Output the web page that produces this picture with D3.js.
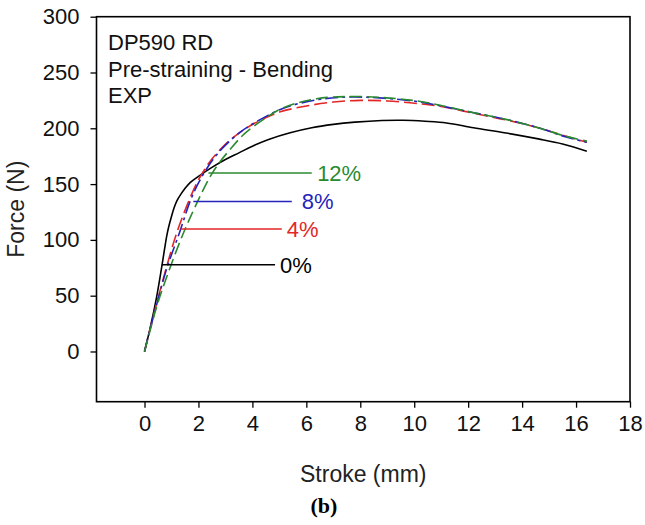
<!DOCTYPE html>
<meta charset="utf-8">
<script src="https://d3js.org/d3.v7.min.js"></script>
<style>
  body { margin: 0; background: #fff; }
  text { font-family: "Liberation Sans", Arial, sans-serif; }
</style>
<div id="graph"></div>
<script>
  // stroke (mm) / force (N)
  var x0 = [0, 0.2, 0.45, 0.64, 0.82, 0.9, 1.0, 1.1, 1.2, 1.35, 1.5, 1.7, 2.0, 2.5, 3.0, 3.5, 4.0, 4.6, 5.4, 6.2, 7.0, 7.8, 8.8, 9.6, 10.4, 11.2, 12.2, 13.4, 14.6, 15.5, 16.4];
  var f0 = [0, 20, 49, 76, 103, 112, 121, 129, 135, 141, 146, 151.5, 157, 165, 172, 178, 184, 190, 196, 200.5, 203.5, 205.5, 207, 207.2, 206.3, 204.8, 200.5, 195.8, 190.5, 186, 179.5];

  var x4 = [0, 0.1, 0.45, 0.82, 1.19, 1.56, 1.94, 2.2, 2.5, 2.85, 3.2, 3.7, 4.2, 5.0, 6.0, 7.0, 8.0, 9.0, 10.0, 11.0, 12.2, 13.4, 14.6, 15.6, 16.4];
  var f4 = [0, 10, 43, 76, 106, 130, 151, 162, 172.5, 182, 190, 199, 206, 214.5, 220, 223.5, 225, 224.5, 222.5, 219.5, 213.5, 207.5, 200.5, 193, 187.5];

  var x8 = [0, 0.1, 0.45, 0.82, 1.29, 1.69, 2.0, 2.31, 2.7, 3.05, 3.6, 4.28, 5.15, 6.38, 7.62, 8.85, 10.1, 11.0, 12.2, 13.4, 14.6, 15.6, 16.4];
  var f8 = [0, 10, 42, 74, 106, 134.5, 151, 164, 177, 186, 197.5, 207.7, 218, 225.5, 228, 227, 224, 220, 214, 208, 200.5, 192.5, 187.5];

  var x12 = [0, 0.1, 0.45, 0.9, 1.44, 1.94, 2.2, 2.49, 2.8, 3.17, 3.7, 4.4, 5.15, 6.38, 7.62, 8.85, 10.1, 11.0, 12.2, 13.4, 14.6, 15.6, 16.4];
  var f12 = [0, 9, 40, 72, 106, 133, 146, 159, 170, 181, 195, 207.7, 218.5, 226.5, 228.5, 227.5, 224.5, 220.5, 214, 208, 200.5, 193, 188.5];

  // annotation lines: label, force level, x from, x to, label x
  var labels = ["0%", "4%", "8%", "12%"];
  var labelForce = [77.7, 109.7, 134.5, 159.9];
  var labelFrom = [0.64, 1.34, 1.81, 2.37];
  var labelTo = [4.84, 5.09, 5.46, 6.2];
  var labelX = [5.02, 5.27, 5.83, 6.4];
  var colors = ["#000000", "#e32626", "#2424bd", "#2a8a2e"];

  var xTicks = [0, 2, 4, 6, 8, 10, 12, 14, 16, 18];
  var yTicks = [0, 50, 100, 150, 200, 250, 300];
  var titleLines = ["DP590 RD", "Pre-straining - Bending", "EXP"];

  var W = 645, H = 525;
  var pLeft = 96.5, pRight = 630, pTop = 16.7, pBottom = 401.7;

  var svg = d3.select("#graph").append("svg")
    .attr("width", W).attr("height", H);

  var x = d3.scaleLinear().domain([-1.78, 18]).range([pLeft, pRight]);
  var y = d3.scaleLinear().domain([-45, 300]).range([pBottom, pTop]);

  // axes
  var xa = svg.append("g")
    .attr("transform", "translate(0," + pBottom + ")")
    .call(d3.axisBottom(x).tickValues(xTicks).tickSize(6).tickSizeOuter(0).tickPadding(8));
  var ya = svg.append("g")
    .attr("transform", "translate(" + pLeft + ",0)")
    .call(d3.axisLeft(y).tickValues(yTicks).tickSize(6).tickSizeOuter(0).tickPadding(11));
  [xa, ya].forEach(function (a) {
    a.select(".domain").remove();
    a.selectAll("line").attr("stroke", "#000").attr("stroke-width", 1.3);
    a.selectAll("text").attr("font-size", 22).attr("fill", "#111")
      .style("font-family", "'Liberation Sans', Arial, sans-serif");
  });

  svg.append("rect")
    .attr("x", pLeft).attr("y", pTop)
    .attr("width", pRight - pLeft).attr("height", pBottom - pTop)
    .attr("fill", "none").attr("stroke", "#000").attr("stroke-width", 1.6);

  // curves
  var line = d3.line()
    .x(function (d) { return x(d[0]); })
    .y(function (d) { return y(d[1]); })
    .curve(d3.curveCatmullRom.alpha(0.5));

  var series = [
    { xs: x0, fs: f0, c: colors[0], dash: null },
    { xs: x4, fs: f4, c: colors[1], dash: "13,5" },
    { xs: x8, fs: f8, c: colors[2], dash: "13,4,3,4" },
    { xs: x12, fs: f12, c: colors[3], dash: "12,5" }
  ];
  series.forEach(function (s) {
    var pts = s.xs.map(function (v, i) { return [v, s.fs[i]]; });
    svg.append("path")
      .attr("d", line(pts))
      .attr("fill", "none")
      .attr("stroke", s.c)
      .attr("stroke-width", 1.6)
      .attr("stroke-dasharray", s.dash);
  });

  // pre-strain markers
  labels.forEach(function (t, i) {
    svg.append("line")
      .attr("x1", x(labelFrom[i])).attr("x2", x(labelTo[i]))
      .attr("y1", y(labelForce[i])).attr("y2", y(labelForce[i]))
      .attr("stroke", colors[i]).attr("stroke-width", 1.5);
    svg.append("text")
      .attr("x", x(labelX[i])).attr("y", y(labelForce[i]))
      .attr("dy", "0.36em")
      .attr("font-size", 22)
      .attr("fill", colors[i])
      .text(t);
  });

  // text block
  titleLines.forEach(function (t, i) {
    svg.append("text")
      .attr("x", 108).attr("y", 50 + i * 26.7)
      .attr("font-size", 22).attr("fill", "#111")
      .text(t);
  });

  // axis titles
  svg.append("text")
    .attr("x", (pLeft + pRight) / 2).attr("y", 482)
    .attr("text-anchor", "middle").attr("font-size", 23).attr("fill", "#222")
    .text("Stroke (mm)");
  svg.append("text")
    .attr("transform", "translate(24," + (pTop + pBottom) / 2 + ") rotate(-90)")
    .attr("text-anchor", "middle").attr("font-size", 23).attr("fill", "#222")
    .text("Force (N)");
  svg.append("text")
    .attr("x", 324).attr("y", 513)
    .attr("text-anchor", "middle").attr("font-size", 22).attr("font-weight", "bold")
    .style("font-family", "'Liberation Serif', 'Times New Roman', serif")
    .text("(b)");
</script>
